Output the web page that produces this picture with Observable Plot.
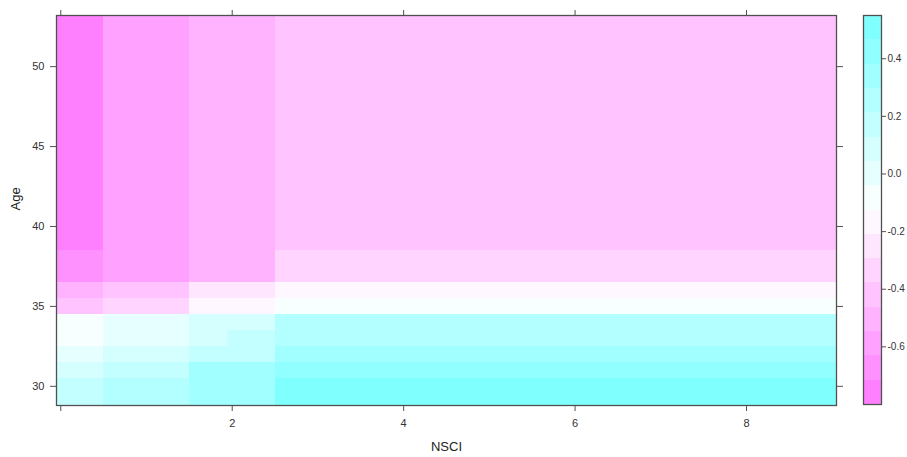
<!DOCTYPE html>
<html>
<head>
<meta charset="utf-8">
<script src="https://cdn.jsdelivr.net/npm/d3@7"></script>
<script src="https://cdn.jsdelivr.net/npm/@observablehq/plot@0.6"></script>
<style>
  html, body { margin: 0; padding: 0; background: #fff; }
  #wrap { position: relative; width: 907px; height: 457px; overflow: hidden; }
  #main { position: absolute; left: 0; top: 0; width: 850px; }
  #key { position: absolute; left: 855px; top: 0; width: 52px; }
  #wrap svg { max-width: none !important; }
</style>
</head>
<body>
<div id="wrap"><div id="main"></div><div id="key"></div></div>
<script>
// ---- Data (partial dependence of the response on NSCI and Age) ----
// Cell edges along NSCI and Age
const nsciEdges = [-0.05, 0.5, 1.5, 1.95, 2.5, 9.05];
const ageEdges = [28.8, 30.5, 31.5, 32.5, 33.5, 34.5, 35.5, 36.5, 38.5, 53.2];
// Predicted values per NSCI cell, rows from youngest to oldest age cell
const pdNsci0    = [0.17, 0.09, 0.00, -0.08, -0.08, -0.42, -0.50, -0.67, -0.80];
const pdNsci1    = [0.26, 0.17, 0.09, 0.00, 0.00, -0.34, -0.42, -0.59, -0.59];
const pdNsci2a   = [0.34, 0.34, 0.17, 0.09, 0.09, -0.17, -0.25, -0.50, -0.50];
const pdNsci2b   = [0.34, 0.34, 0.17, 0.17, 0.09, -0.17, -0.25, -0.50, -0.50];
const pdNsci3up  = [0.55, 0.42, 0.34, 0.26, 0.26, -0.08, -0.17, -0.34, -0.42];
const pdColumns = [pdNsci0, pdNsci1, pdNsci2a, pdNsci2b, pdNsci3up];

// Tick values and labels
const xTicks = [0, 2, 4, 6, 8];
const xTickLabels = ["", "2", "4", "6", "8"];
const yTicks = [30, 35, 40, 45, 50];
const yTickLabels = ["30", "35", "40", "45", "50"];
const keyTicks = [-0.6, -0.4, -0.2, 0, 0.2, 0.4];
const keyTickLabels = ["-0.6", "-0.4", "-0.2", "0.0", "0.2", "0.4"];
const xTitle = "NSCI";
const yTitle = "Age";

// ---- Build table ----
const cells = [];
pdColumns.forEach((col, j) => {
  col.forEach((v, i) => {
    cells.push({x1: nsciEdges[j], x2: nsciEdges[j + 1], y1: ageEdges[i], y2: ageEdges[i + 1], value: v});
  });
});

// 16 equal intervals from min to max (lattice default cuts = 15)
const nBands = 16;
const [zmin, zmax] = d3.extent(cells, d => d.value);
const breaks = d3.range(nBands + 1).map(i => zmin + (zmax - zmin) * i / nBands);
const thresholds = breaks.slice(1, -1);
const ramp = d3.piecewise(d3.interpolateRgb, ["#FF80FF", "#FFFFFF", "#80FFFF"]);
const bandColors = d3.quantize(ramp, nBands);
const colorOpts = {type: "threshold", domain: thresholds, range: bandColors};

const font = "'Liberation Sans', Arial, Helvetica, sans-serif";
const axisCol = "#505050";

const main = Plot.plot({
  width: 850,
  height: 457,
  marginLeft: 56,
  marginRight: 14,
  marginTop: 15,
  marginBottom: 52,
  style: {fontFamily: font, fontSize: "11px", color: "#333", background: "transparent", overflow: "visible"},
  x: {domain: [nsciEdges[0], nsciEdges[nsciEdges.length - 1]]},
  y: {domain: [ageEdges[0], ageEdges[ageEdges.length - 1]]},
  color: colorOpts,
  marks: [
    Plot.rect(cells, {x1: "x1", x2: "x2", y1: "y1", y2: "y2", fill: "value", shapeRendering: "crispEdges"}),
    Plot.frame({stroke: axisCol, strokeWidth: 1.3}),
    Plot.axisX({anchor: "bottom", ticks: xTicks, tickFormat: (d, i) => xTickLabels[i], tickSize: 6, tickPadding: 8, label: null, stroke: axisCol}),
    Plot.axisX({anchor: "top", ticks: xTicks, tickFormat: () => "", tickSize: 6, label: null, stroke: axisCol}),
    Plot.axisY({anchor: "left", ticks: yTicks, tickFormat: (d, i) => yTickLabels[i], tickSize: 6, tickPadding: 6, label: null, stroke: axisCol}),
    Plot.axisY({anchor: "right", ticks: yTicks, tickFormat: () => "", tickSize: 6, label: null, stroke: axisCol}),
    Plot.text([xTitle], {text: d => d, frameAnchor: "bottom", dy: 45, fontSize: 13, fill: "#222"}),
    Plot.text([yTitle], {text: d => d, frameAnchor: "left", dx: -41, rotate: -90, fontSize: 13, fill: "#222"})
  ]
});
document.getElementById("main").appendChild(main);

// ---- Colour key ----
const bands = d3.range(nBands).map(i => ({y1: breaks[i], y2: breaks[i + 1], mid: (breaks[i] + breaks[i + 1]) / 2}));
const key = Plot.plot({
  width: 52,
  height: 457,
  marginLeft: 8,
  marginRight: 26,
  marginTop: 15,
  marginBottom: 53,
  style: {fontFamily: font, fontSize: "10px", color: "#333", background: "transparent", overflow: "visible"},
  x: {domain: [0, 1], axis: null},
  y: {domain: [zmin, zmax]},
  color: colorOpts,
  marks: [
    Plot.rect(bands, {x1: 0, x2: 1, y1: "y1", y2: "y2", fill: "mid", shapeRendering: "crispEdges"}),
    Plot.frame({stroke: axisCol, strokeWidth: 1.3}),
    Plot.axisY({anchor: "right", ticks: keyTicks, tickFormat: (d, i) => keyTickLabels[i], tickSize: 4, tickPadding: 2, label: null, stroke: axisCol})
  ]
});
document.getElementById("key").appendChild(key);
</script>
</body>
</html>
